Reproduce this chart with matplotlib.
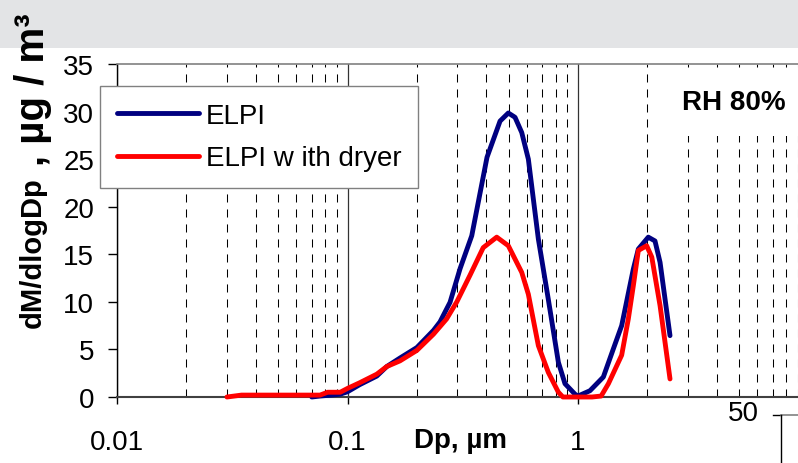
import numpy as np
import matplotlib
matplotlib.use('Agg')
import matplotlib.pyplot as plt
from matplotlib.ticker import FixedLocator, FixedFormatter, LogLocator, NullFormatter
from matplotlib.lines import Line2D
from matplotlib.patches import Rectangle

plt.rcParams['font.family'] = ['Liberation Sans', 'DejaVu Sans']
plt.rcParams['lines.scale_dashes'] = False

# ELPI mass size distribution, RH 80%
dp_elpi = [0.070, 0.076, 0.085, 0.093, 0.100, 0.113, 0.134, 0.148, 0.169, 0.200,
           0.236, 0.252, 0.2785, 0.308, 0.346, 0.403, 0.459, 0.4985, 0.533, 0.570,
           0.609, 0.673, 0.743, 0.822, 0.878, 0.970, 1.000, 1.127, 1.288, 1.423,
           1.547, 1.738, 1.827, 2.018, 2.158, 2.270, 2.507]
m_elpi = [0.0, 0.1, 0.2, 0.3, 0.55, 1.3, 2.2, 3.2, 4.1, 5.2,
          7.0, 7.9, 9.95, 13.5, 16.95, 25.2, 29.0, 29.85, 29.4, 27.8,
          25.0, 16.6, 10.3, 3.65, 1.4, 0.3, 0.1, 0.66, 2.1, 5.05,
          7.5, 13.45, 15.55, 16.8, 16.4, 14.15, 6.45]

# ELPI with dryer
dp_dry = [0.030, 0.0347, 0.040, 0.050, 0.060, 0.070, 0.076, 0.082, 0.093, 0.100,
          0.113, 0.134, 0.148, 0.169, 0.200, 0.236, 0.269, 0.298, 0.340, 0.388,
          0.444, 0.4985, 0.570, 0.609, 0.673, 0.743, 0.822, 0.860, 0.950, 1.050,
          1.150, 1.260, 1.355, 1.547, 1.653, 1.738, 1.827, 1.986, 2.090, 2.270,
          2.507]
m_dry = [0.0, 0.2, 0.2, 0.2, 0.2, 0.2, 0.2, 0.5, 0.5, 0.9,
         1.5, 2.4, 3.2, 3.8, 4.9, 6.6, 8.2, 10.0, 12.8, 15.7,
         16.8, 15.9, 13.1, 10.8, 5.4, 2.6, 0.5, 0.0, 0.0, 0.0,
         0.0, 0.1, 1.4, 4.4, 8.2, 11.7, 15.4, 15.9, 14.7, 9.6,
         1.9]

xticks = [0.01, 0.1, 1]
xticklabels = ['0.01', '0.1', '1']
yticks = [0, 5, 10, 15, 20, 25, 30, 35]

W, H = 798, 464
fig = plt.figure(figsize=(W/100, H/100), dpi=100)

# grey strip along the top
fig.add_artist(Rectangle((0, 1 - 49/H), 1, 49/H, transform=fig.transFigure,
                         facecolor='#e3e4e6', edgecolor='none', zorder=0))

ax = fig.add_axes([117/W, (H - 398)/H, 922/W, 333/H])
ax.set_xscale('log')
ax.set_xlim(0.01, 100)
ax.set_ylim(0, 35)

ax.xaxis.set_major_locator(FixedLocator(xticks))
ax.xaxis.set_major_formatter(FixedFormatter(xticklabels))
ax.xaxis.set_minor_locator(LogLocator(base=10, subs=np.arange(2, 10)))
ax.xaxis.set_minor_formatter(NullFormatter())
ax.set_yticks(yticks)

ax.tick_params(axis='x', which='major', direction='out', length=5, width=1,
               pad=18, labelsize=20)
ax.tick_params(axis='x', which='minor', length=0)
ax.tick_params(axis='y', direction='out', length=6.5, width=1, pad=10,
               labelsize=20)

ax.grid(which='minor', axis='x', color='k', lw=0.75, ls=(0, (5.8, 5)))
ax.grid(which='major', axis='x', color='#333333', lw=0.9)
ax.set_axisbelow(True)

ax.spines['top'].set_color('#808080')
ax.spines['top'].set_linewidth(1.2)
ax.spines['bottom'].set_color('#404040')
ax.spines['bottom'].set_linewidth(1.5)
ax.spines['left'].set_color('k')
ax.spines['left'].set_linewidth(1)

ax.plot(dp_elpi, m_elpi, color='#000080', lw=3.5, label='ELPI',
        solid_capstyle='round', clip_on=False, zorder=3)
ax.plot(dp_dry, m_dry, color='#ff0000', lw=3.5, label='ELPI w ith dryer',
        solid_capstyle='round', clip_on=False, zorder=4)

leg = ax.legend(loc='upper left', bbox_to_anchor=(100/W, 1 - 87/H),
                bbox_transform=fig.transFigure, fontsize=20, frameon=True,
                fancybox=False, edgecolor='#808080', framealpha=1,
                borderaxespad=0, borderpad=0.6, handlelength=2.95,
                handletextpad=0.25, labelspacing=0.6)
leg.get_frame().set_linewidth(1)
leg.set_zorder(10)
for h in leg.get_lines():
    h.set_linewidth(3.5)
    h.set_solid_capstyle('round')

ax.text(0.613, 0.885, 'RH 80%', transform=ax.transAxes, fontsize=20,
        fontweight='bold', ha='left', va='center', zorder=6,
        bbox=dict(facecolor='white', edgecolor='none', pad=15))

fig.text(460/W, 1 - 441/H, 'Dp, µm', fontsize=20, fontweight='bold',
         ha='center', va='center')

# y axis title
fig.text(33/W, 1 - 328/H, 'dM/dlogDp', fontsize=21, fontweight='bold',
         rotation=90, ha='center', va='bottom')
fig.text(33/W, 1 - 166/H, ', µg / m³', fontsize=29, fontweight='bold',
         rotation=90, ha='center', va='bottom')

# start of the neighbouring chart at the lower right
fig.text(743/W, 1 - 414/H, '50', fontsize=20, ha='center', va='center')
fig.add_artist(Line2D([773/W, 781/W], [1 - 416/H] * 2, color='k', lw=1))
fig.add_artist(Line2D([781/W, 1], [1 - 416/H] * 2, color='#808080', lw=1.2))
fig.add_artist(Line2D([781/W, 781/W], [1 - 416/H, 0], color='k', lw=1))

fig.savefig('out.png', dpi=100)
